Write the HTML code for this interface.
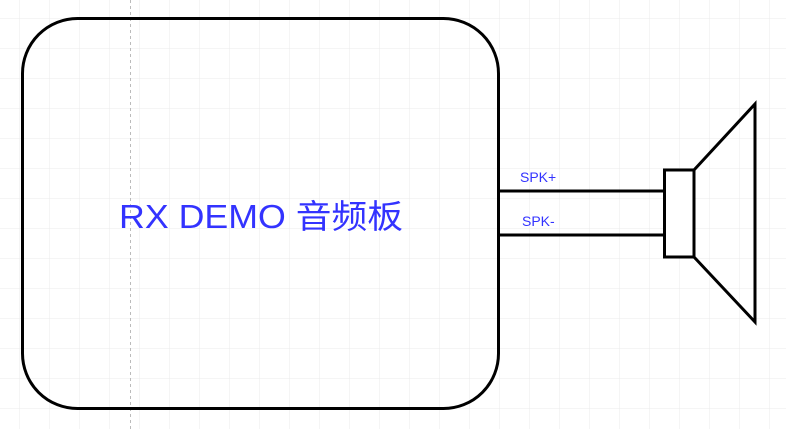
<!DOCTYPE html>
<html><head><meta charset="utf-8"><style>
html,body{margin:0;padding:0;background:#fff;}
</style></head><body>
<svg width="786" height="429" xmlns="http://www.w3.org/2000/svg">
<defs>
<pattern id="g" x="19" y="18" width="30" height="30" patternUnits="userSpaceOnUse">
<path d="M0 0H30M0 0V30" stroke="#ebebeb" stroke-width="1" fill="none"/>
</pattern>
</defs>
<rect width="786" height="429" fill="url(#g)"/>
<line x1="130.5" y1="0" x2="130.5" y2="429" stroke="#bbb" stroke-dasharray="3,3"/>
<rect x="22.5" y="18.5" width="476" height="390" rx="55" ry="55" fill="none" stroke="#000" stroke-width="3"/>
<line x1="499" y1="191" x2="664" y2="191" stroke="#000" stroke-width="3"/>
<line x1="499" y1="235" x2="664" y2="235" stroke="#000" stroke-width="3"/>
<rect x="664.5" y="170" width="29.5" height="87" fill="#fff" stroke="#000" stroke-width="3"/>
<path d="M694 170 L755 104 L755 322 L694 257" fill="none" stroke="#000" stroke-width="3"/>
<text x="520" y="182" font-family="Liberation Sans, sans-serif" font-size="14" fill="#3333ff">SPK+</text>
<text x="522" y="226" font-family="Liberation Sans, sans-serif" font-size="14" fill="#3333ff">SPK-</text>
<text x="119" y="228" font-family="Liberation Sans, 'Noto Sans CJK SC', sans-serif" font-size="33" fill="#3333ff" textLength="284" lengthAdjust="spacingAndGlyphs">RX DEMO 音频板</text>
</svg>
</body></html>
